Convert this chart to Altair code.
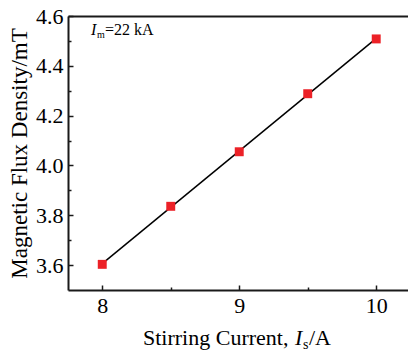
import altair as alt
import pandas as pd

# ---- data ----
stirring_current = [8.0, 8.5, 9.0, 9.5, 10.0]
flux_density = [3.603, 3.836, 4.055, 4.288, 4.508]
x_major = [8, 9, 10]
x_minor = [8.5, 9.5]
y_major = [3.6, 3.8, 4.0, 4.2, 4.4, 4.6]
y_minor = [3.7, 3.9, 4.1, 4.3, 4.5]
x_domain = [7.75, 10.232]
y_domain = [3.5, 4.6]

FONT = "Liberation Serif"
AX = "#1a1a1a"
W, H = 340, 274

df = pd.DataFrame({"x": stirring_current, "y": flux_density})
xs = alt.Scale(domain=x_domain, nice=False, zero=False)
ys = alt.Scale(domain=y_domain, nice=False, zero=False)

base = alt.Chart(df)

# main layer: line (fit) + points, axes with labels and domain lines
line = base.transform_regression("x", "y").mark_line(color="black", strokeWidth=1.5).encode(
    x=alt.X("x:Q", scale=xs, axis=alt.Axis(
        orient="bottom", values=x_major, format="d", ticks=False, grid=False,
        domainColor=AX, domainWidth=2, labelFont=FONT, labelFontSize=22,
        labelColor="black", labelPadding=5, title=None)),
    y=alt.Y("y:Q", scale=ys, axis=alt.Axis(
        orient="left", values=y_major, format=".1f", ticks=False, grid=False,
        domainColor=AX, domainWidth=2, labelFont=FONT, labelFontSize=22,
        labelColor="black", labelPadding=5, title="Magnetic Flux Density/mT",
        titleFont=FONT, titleFontSize=23, titleFontWeight="normal",
        titleColor="black", titlePadding=4)),
)
points = base.mark_square(color="#ec2127", size=80, opacity=1).encode(
    x=alt.X("x:Q", scale=xs), y=alt.Y("y:Q", scale=ys))
main = alt.layer(line, points)

def tick_layer(xv, yv, size):
    return base.mark_point(opacity=0).encode(
        x=alt.X("x:Q", scale=xs, axis=alt.Axis(
            orient="bottom", values=xv, offset=-size, domain=False, labels=False,
            ticks=True, tickSize=size, tickWidth=1.5, tickColor=AX, grid=False, title=None)),
        y=alt.Y("y:Q", scale=ys, axis=alt.Axis(
            orient="left", values=yv, offset=-size, domain=False, labels=False,
            ticks=True, tickSize=size, tickWidth=1.5, tickColor=AX, grid=False, title=None)),
    )

major = tick_layer(x_major, y_major, 5)
minor = tick_layer(x_minor, y_minor, 3)

top = base.mark_point(opacity=0).encode(
    x=alt.X("x:Q", scale=xs, axis=alt.Axis(
        orient="top", domain=True, domainColor=AX, domainWidth=2, labels=False,
        ticks=False, grid=False, title=None)),
    y=alt.Y("y:Q", scale=ys, axis=None),
)

def txt(text, x, y, size, italic=False):
    return alt.Chart(pd.DataFrame({"t": [text]})).mark_text(
        font=FONT, fontSize=size, fontStyle="italic" if italic else "normal",
        align="left", baseline="alphabetic", color="black",
    ).encode(text="t:N", x=alt.value(x), y=alt.value(y))

# annotation I_m = 22 kA
ann = [
    txt("I", 23, 19, 16, italic=True),
    txt("m", 29, 22, 10),
    txt("=22 kA", 37, 19, 16),
]
# x axis title: Stirring Current, I_s/A
xtitle = [
    txt("Stirring Current,", 75, 329, 22),
    txt("I", 227, 329, 22, italic=True),
    txt("s", 235, 333, 14),
    txt("/A", 241, 329, 22),
]

chart = alt.layer(main, major, minor, top, *ann, *xtitle).resolve_axis(
    x="independent", y="independent"
).properties(
    width=W, height=H,
    autosize=alt.AutoSizeParams(type="none"),
    padding={"left": 68, "top": 16, "right": 0, "bottom": 65},
    background="white",
).configure_view(stroke=None)

chart.save("out.html", embed_options={"renderer": "svg", "actions": False})
